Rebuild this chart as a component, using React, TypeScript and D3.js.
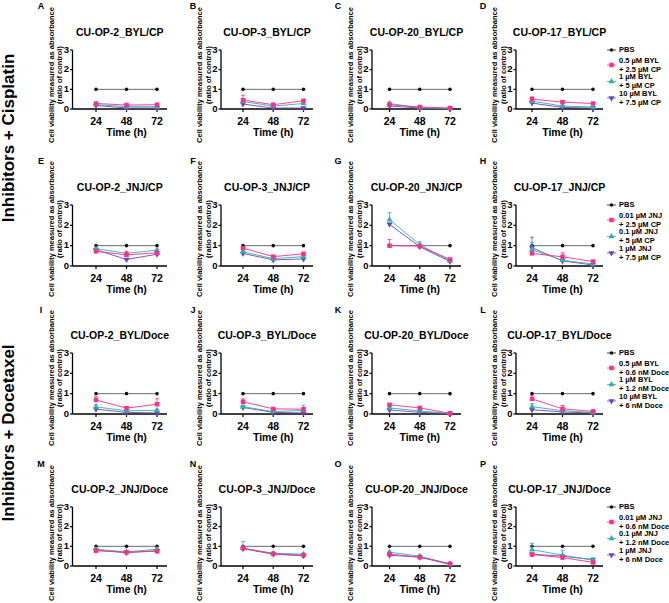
import React from 'react';
import * as d3 from 'd3';

// ---------- data ----------
const times = [24, 48, 72];
const yTicks = [0, 1, 2, 3];
const letters = ['A','B','C','D','E','F','G','H','I','J','K','L','M','N','O','P'];
const titles = [
  'CU-OP-2_BYL/CP', 'CU-OP-3_BYL/CP', 'CU-OP-20_BYL/CP', 'CU-OP-17_BYL/CP',
  'CU-OP-2_JNJ/CP', 'CU-OP-3_JNJ/CP', 'CU-OP-20_JNJ/CP', 'CU-OP-17_JNJ/CP',
  'CU-OP-2_BYL/Doce', 'CU-OP-3_BYL/Doce', 'CU-OP-20_BYL/Doce', 'CU-OP-17_BYL/Doce',
  'CU-OP-2_JNJ/Doce', 'CU-OP-3_JNJ/Doce', 'CU-OP-20_JNJ/Doce', 'CU-OP-17_JNJ/Doce',
];
const pbsValues = [1, 1, 1];
// low / mid / high combination doses, one row of 3 time points per panel
const lowDose = [
  [0.28, 0.20, 0.22], [0.45, 0.22, 0.42], [0.22, 0.10, 0.05], [0.50, 0.35, 0.28],
  [0.72, 0.55, 0.65], [0.88, 0.46, 0.60], [1.00, 0.98, 0.32], [0.62, 0.45, 0.22],
  [0.69, 0.29, 0.48], [0.60, 0.25, 0.24], [0.45, 0.30, 0.03], [0.74, 0.25, 0.13],
  [0.78, 0.70, 0.75], [0.90, 0.62, 0.55], [0.60, 0.45, 0.12], [0.58, 0.43, 0.18],
];
const midDose = [
  [0.22, 0.12, 0.12], [0.38, 0.15, 0.28], [0.28, 0.06, 0.03], [0.40, 0.15, 0.10],
  [0.85, 0.62, 0.78], [0.70, 0.36, 0.46], [2.28, 1.05, 0.25], [0.80, 0.28, 0.10],
  [0.35, 0.16, 0.18], [0.36, 0.12, 0.18], [0.30, 0.15, 0.02], [0.36, 0.16, 0.07],
  [0.85, 0.72, 0.85], [0.90, 0.65, 0.60], [0.70, 0.50, 0.10], [0.83, 0.55, 0.30],
];
const highDose = [
  [0.18, 0.05, 0.05], [0.25, 0.05, 0.05], [0.15, 0.05, 0.02], [0.30, 0.08, 0.05],
  [0.80, 0.32, 0.58], [0.62, 0.30, 0.35], [2.05, 0.95, 0.22], [0.90, 0.25, 0.05],
  [0.24, 0.08, 0.05], [0.32, 0.08, 0.05], [0.20, 0.08, 0.02], [0.21, 0.10, 0.05],
  [0.80, 0.68, 0.78], [0.88, 0.60, 0.52], [0.55, 0.45, 0.08], [0.60, 0.50, 0.33],
];
// upper error (SD) per point
const lowErr = [
  [0.05, 0.04, 0.05], [0.25, 0.05, 0.06], [0.03, 0.02, 0.02], [0.12, 0.04, 0.04],
  [0.05, 0.17, 0.05], [0.05, 0.05, 0.05], [0.30, 0.05, 0.05], [0.05, 0.20, 0.05],
  [0.16, 0.05, 0.27], [0.15, 0.04, 0.06], [0.06, 0.06, 0.02], [0.16, 0.17, 0.04],
  [0.05, 0.05, 0.05], [0.10, 0.05, 0.05], [0.06, 0.06, 0.03], [0.04, 0.05, 0.04],
];
const midErr = [
  [0.04, 0.03, 0.03], [0.10, 0.04, 0.04], [0.08, 0.02, 0.02], [0.05, 0.04, 0.03],
  [0.05, 0.05, 0.05], [0.05, 0.05, 0.05], [0.34, 0.15, 0.05], [0.35, 0.05, 0.03],
  [0.12, 0.04, 0.05], [0.06, 0.04, 0.25], [0.05, 0.04, 0.02], [0.16, 0.05, 0.02],
  [0.05, 0.05, 0.05], [0.35, 0.05, 0.05], [0.06, 0.05, 0.03], [0.32, 0.25, 0.04],
];
const highErr = [
  [0.03, 0.02, 0.02], [0.05, 0.02, 0.02], [0.03, 0.02, 0.02], [0.04, 0.02, 0.02],
  [0.05, 0.04, 0.05], [0.05, 0.04, 0.04], [0.06, 0.05, 0.04], [0.52, 0.04, 0.02],
  [0.05, 0.02, 0.02], [0.05, 0.02, 0.02], [0.04, 0.03, 0.02], [0.03, 0.02, 0.02],
  [0.05, 0.05, 0.05], [0.05, 0.05, 0.05], [0.05, 0.05, 0.03], [0.05, 0.05, 0.04],
];
const legendLow = [['0.5 µM BYL', '+ 2.5 µM CP'], ['0.01 µM JNJ', '+ 2.5 µM CP'], ['0.5 µM BYL', '+ 0.6 nM Doce'], ['0.01 µM JNJ', '+ 0.6 nM Doce']];
const legendMid = [['1 µM BYL', '+ 5 µM CP'], ['0.1 µM JNJ', '+ 5 µM CP'], ['1 µM BYL', '+ 1.2 nM Doce'], ['0.1 µM JNJ', '+ 1.2 nM Doce']];
const legendHigh = [['10 µM BYL', '+ 7.5 µM CP'], ['1 µM JNJ', '+ 7.5 µM CP'], ['10 µM BYL', '+ 6 nM Doce'], ['1 µM JNJ', '+ 6 nM Doce']];
const groupLabels = ['Inhibitors + Cisplatin', 'Inhibitors + Docetaxel'];

// ---------- layout ----------
const W = 669, H = 603;
const FONT = '"Liberation Sans", Arial, Helvetica, sans-serif';
const cols = [
  { axis: 72.5, x0: 96, x1: 157, end: 167, letter: 41 },
  { axis: 221, x0: 243, x1: 303.5, end: 313, letter: 193 },
  { axis: 372, x0: 389.5, x1: 450, end: 461, letter: 338 },
  { axis: 516, x0: 532, x1: 593, end: 603, letter: 483 },
];
const rows = [
  { top: 50, bottom: 109, letter: 7, label: 75 },
  { top: 205, bottom: 266, letter: 162, label: 229 },
  { top: 353, bottom: 414, letter: 311, label: 378 },
  { top: 507, bottom: 566, letter: 465, label: 533 },
];
const COLORS = { pbs: '#111111', low: '#FF2D8A', mid: '#2FB3A6', high: '#6A44C2' };

const sqPath = d3.symbol().type(d3.symbolSquare).size(20)()!;
const triPath = d3.symbol().type(d3.symbolTriangle).size(16)()!;

function Marker({ kind, x, y }: { kind: string; x: number; y: number }) {
  if (kind === 'pbs') return <circle cx={x} cy={y} r={1.8} fill={COLORS.pbs} />;
  if (kind === 'low') return <path d={sqPath} transform={`translate(${x},${y})`} fill={COLORS.low} />;
  if (kind === 'mid') return <path d={triPath} transform={`translate(${x},${y})`} fill={COLORS.mid} />;
  return <path d={triPath} transform={`translate(${x},${y}) rotate(180)`} fill={COLORS.high} />;
}

function Panel({ idx }: { idx: number }) {
  const r = Math.floor(idx / 4), c = idx % 4;
  const col = cols[c], row = rows[r];
  const x = d3.scaleLinear().domain([24, 72]).range([col.x0, col.x1]);
  const y = d3.scaleLinear().domain([0, 3]).range([row.bottom, row.top]);
  const line = d3.line<number>().x((_, i) => x(times[i])).y((v) => y(v));
  const series = [
    { kind: 'pbs', vals: pbsValues, err: null as number[] | null, color: '#444', lw: 0.8 },
    { kind: 'high', vals: highDose[idx], err: highErr[idx], color: COLORS.high, lw: 0.9 },
    { kind: 'mid', vals: midDose[idx], err: midErr[idx], color: COLORS.mid, lw: 0.9 },
    { kind: 'low', vals: lowDose[idx], err: lowErr[idx], color: COLORS.low, lw: 0.9 },
  ];
  const midY = row.label;
  return (
    <g>
      <text x={col.letter} y={row.letter} fontSize={9} fontWeight="bold" textAnchor="middle" dominantBaseline="middle">{letters[idx]}</text>
      <text x={(col.axis + col.end) / 2} y={row.top - 16.5} fontSize={10.5} fontWeight="bold" textAnchor="middle" dominantBaseline="middle">{titles[idx]}</text>
      <text transform={`translate(${col.axis - 20.5},${midY}) rotate(-90)`} fontSize={7.5} fontWeight="bold" textAnchor="middle" dominantBaseline="middle">Cell viability measured as absorbance</text>
      <text transform={`translate(${col.axis - 12},${midY}) rotate(-90)`} fontSize={7.5} fontWeight="bold" textAnchor="middle" dominantBaseline="middle">(ratio of control)</text>
      {/* axes */}
      <line x1={col.axis} x2={col.axis} y1={row.top} y2={row.bottom} stroke="#000" strokeWidth={1.3} />
      <line x1={col.axis} x2={col.end} y1={row.bottom} y2={row.bottom} stroke="#000" strokeWidth={1.3} />
      {yTicks.map((t) => (
        <g key={t}>
          <line x1={col.axis - 2.5} x2={col.axis} y1={y(t)} y2={y(t)} stroke="#000" strokeWidth={1.2} />
          <text x={col.axis - 3.5} y={y(t)} fontSize={9.5} fontWeight="bold" textAnchor="end" dominantBaseline="middle">{t}</text>
        </g>
      ))}
      {times.map((t) => (
        <g key={t}>
          <line x1={x(t)} x2={x(t)} y1={row.bottom} y2={row.bottom + 3} stroke="#000" strokeWidth={1.2} />
          <text x={x(t)} y={row.bottom + 13.5} fontSize={10.5} fontWeight="bold" textAnchor="middle" dominantBaseline="middle">{t}</text>
        </g>
      ))}
      <text x={x(48)} y={row.bottom + 24} fontSize={10.5} fontWeight="bold" textAnchor="middle" dominantBaseline="middle">Time (h)</text>
      {series.map((s) => (
        <g key={s.kind}>
          <path d={line(s.vals)!} fill="none" stroke={s.color} strokeWidth={s.lw} />
          {s.err && s.vals.map((v, i) => (
            <g key={i}>
              <line x1={x(times[i])} x2={x(times[i])} y1={y(v)} y2={y(v + s.err![i])} stroke={s.color} strokeWidth={0.8} />
              <line x1={x(times[i]) - 2} x2={x(times[i]) + 2} y1={y(v + s.err![i])} y2={y(v + s.err![i])} stroke={s.color} strokeWidth={0.8} />
            </g>
          ))}
          {s.vals.map((v, i) => <Marker key={i} kind={s.kind} x={x(times[i])} y={y(v)} />)}
        </g>
      ))}
    </g>
  );
}

function Legend({ r }: { r: number }) {
  const row = rows[r];
  const lx = 611.5, tx = 619;
  const items = [
    { kind: 'pbs', y: row.top, lines: ['PBS'], color: '#111' },
    { kind: 'low', y: row.top + 15, lines: legendLow[r], color: COLORS.low },
    { kind: 'mid', y: row.top + 31.5, lines: legendMid[r], color: COLORS.mid },
    { kind: 'high', y: row.top + 48, lines: legendHigh[r], color: COLORS.high },
  ];
  return (
    <g>
      {items.map((it) => (
        <g key={it.kind}>
          <line x1={lx - 4.5} x2={lx + 4.5} y1={it.y} y2={it.y} stroke={it.color} strokeWidth={0.8} />
          <Marker kind={it.kind} x={lx} y={it.y} />
          {it.lines.length === 1 ? (
            <text x={tx} y={it.y} fontSize={7.5} fontWeight="bold" dominantBaseline="middle">{it.lines[0]}</text>
          ) : (
            it.lines.map((l, i) => (
              <text key={i} x={tx} y={it.y + (i === 0 ? -4.4 : 4.6)} fontSize={7.5} fontWeight="bold" dominantBaseline="middle">{l}</text>
            ))
          )}
        </g>
      ))}
    </g>
  );
}

export default function App() {
  return (
    <svg width={W} height={H} style={{ position: 'absolute', left: 0, top: 0, background: '#fff' }} fontFamily={FONT}>
      <rect width={W} height={H} fill="#fff" />
      {d3.range(16).map((i) => <Panel key={i} idx={i} />)}
      {d3.range(4).map((r) => <Legend key={r} r={r} />)}
      <text transform={`translate(10,138) rotate(-90)`} fontSize={17} fontWeight="bold" textAnchor="middle" dominantBaseline="middle">{groupLabels[0]}</text>
      <text transform={`translate(10,433) rotate(-90)`} fontSize={17} fontWeight="bold" textAnchor="middle" dominantBaseline="middle">{groupLabels[1]}</text>
    </svg>
  );
}
